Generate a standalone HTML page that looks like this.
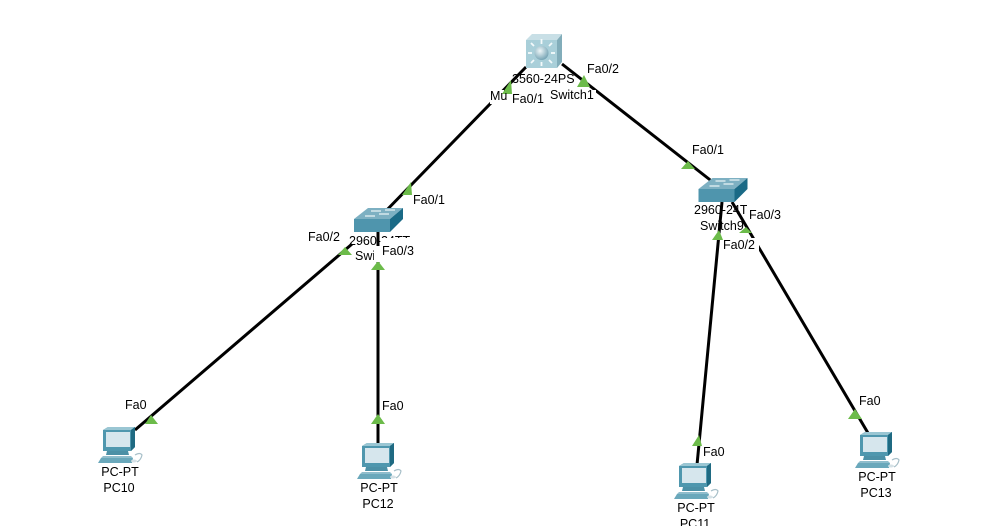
<!DOCTYPE html>
<html><head><meta charset="utf-8"><style>
html,body{margin:0;padding:0;background:#fff;width:981px;height:526px;overflow:hidden}
svg{display:block}
text{font-family:"Liberation Sans",Arial,sans-serif;font-size:12.5px;fill:#000}
</style></head><body>
<svg width="981" height="526" viewBox="0 0 981 526" xmlns="http://www.w3.org/2000/svg">
<defs>
<g id="pc">
<polygon points="103,430 108,427 135,427 135,447 131,451 103,451" fill="#3f8298"/>
<polygon points="108,427 135,427 131,430 103,430" fill="#9ac6d3"/>
<rect x="103" y="430" width="28" height="21" fill="#4f97ae"/>
<rect x="106" y="432" width="24" height="15" fill="#d6e6ed"/>
<polygon points="131,430 135,427 135,447 131,451" fill="#1f6a82"/>
<polygon points="107,451 128,451 129,455 106,455" fill="#4c90a6"/>
<polygon points="103,456 131,456 133,458 101,458" fill="#8fbdcc"/>
<polygon points="101,458 133,458 132,463 98,463" fill="#6aa8bb"/>
<path d="M135,455 q5,-3 7,0 q-1,5 -5,7" fill="none" stroke="#a8c0c9" stroke-width="1.2"/>
<ellipse cx="134" cy="461" rx="3" ry="1.5" fill="#d5e1e6"/>
</g>
<g id="sw">
<polygon points="0,11 14,0 49,0 36,11" fill="#7db0c2"/>
<rect x="0" y="11" width="36" height="13" fill="#4f95ad"/>
<polygon points="36,11 49,0 49,11 36,24" fill="#1a6a86"/>
<g stroke="#eef6f8" stroke-width="1.2">
<line x1="17" y1="3" x2="27" y2="3"/><line x1="31" y1="2" x2="41" y2="2"/>
<line x1="11" y1="8" x2="21" y2="8"/><line x1="25" y1="6" x2="35" y2="6"/>
</g>
</g>
</defs>

<g stroke="#000" stroke-width="3" fill="none">
<line x1="526" y1="67" x2="380" y2="217"/>
<line x1="562" y1="64" x2="723" y2="190"/>
<line x1="352" y1="244" x2="135" y2="430"/>
<line x1="378" y1="232" x2="378" y2="445"/>
<line x1="722" y1="202" x2="697" y2="465"/>
<line x1="732" y1="202" x2="868" y2="433"/>
</g>

<!-- label backgrounds -->
<g fill="#fff">
<rect x="490" y="90" width="14" height="14"/>
<rect x="512" y="93" width="34" height="13"/>
<rect x="550" y="90" width="46" height="11"/>
<rect x="587" y="62" width="35" height="13"/>
<rect x="413" y="193" width="34" height="13"/>
<rect x="308" y="230" width="34" height="13"/>
<rect x="355" y="246" width="28" height="15"/>
<rect x="723" y="238" width="36" height="14"/>
</g>

<!-- connection triangles -->
<g fill="#6cbb4a">
<polygon points="145,424 151,415 158,424"/>
<polygon points="371,424 378,414 385,424"/>
<polygon points="338,255 345,247 352,255"/>
<polygon points="371,270 378,261 385,270"/>
<polygon points="402,195 411,182 412,195"/>
<polygon points="502,94 511,80 512,94"/>
<polygon points="577,87 584,75 590,87"/>
<polygon points="681,169 688,161 695,169"/>
<polygon points="712,240 719,230 723,240"/>
<polygon points="739,233 746,227 752,233"/>
<polygon points="692,446 699,435 702,446"/>
<polygon points="848,419 855,409 862,419"/>
</g>

<!-- Switch1 multilayer icon -->
<polygon points="526,40 532,34 562,34 557,40" fill="#c8dfe6"/>
<rect x="526" y="40" width="31" height="28" fill="#a9cfd9"/>
<polygon points="557,40 562,34 562,62 557,68" fill="#82adba"/>
<radialGradient id="b" cx="40%" cy="35%" r="70%"><stop offset="0" stop-color="#eef6f8"/><stop offset="1" stop-color="#6f9fb0"/></radialGradient>
<circle cx="541.5" cy="53" r="7" fill="url(#b)"/>
<g stroke="#f4fafb" stroke-width="1.8">
<line x1="541.5" y1="44" x2="541.5" y2="39"/><line x1="541.5" y1="62" x2="541.5" y2="66"/>
<line x1="532" y1="53" x2="528" y2="53"/><line x1="551" y1="53" x2="555" y2="53"/>
<line x1="534" y1="46" x2="531" y2="43"/><line x1="549" y1="46" x2="552" y2="43"/>
<line x1="534" y1="60" x2="531" y2="63"/><line x1="549" y1="60" x2="552" y2="63"/>
</g>

<use href="#sw" x="354" y="208"/>
<use href="#sw" x="698.5" y="178"/>

<use href="#pc"/>
<use href="#pc" x="259" y="16"/>
<use href="#pc" x="576" y="36"/>
<use href="#pc" x="757" y="5"/>

<!-- labels -->
<text x="512" y="83">3560-24PS</text>
<text x="550" y="99">Switch1</text>
<text x="490" y="100">Mu</text>
<text x="512" y="103">Fa0/1</text>
<text x="587" y="73">Fa0/2</text>
<text x="413" y="204">Fa0/1</text>
<text x="308" y="241">Fa0/2</text>
<text x="349" y="245">2960-24TT</text>
<text x="355" y="260">Switch2</text>
<rect x="374" y="247" width="8" height="15" fill="#fff"/>
<rect x="381" y="238" width="35" height="24" fill="#fff"/>
<line x1="378" y1="232" x2="378" y2="246" stroke="#000" stroke-width="3"/>
<text x="382" y="255">Fa0/3</text>
<text x="692" y="154">Fa0/1</text>
<text x="694" y="214">2960-24TT</text>
<text x="700" y="230">Switch9</text>
<rect x="747" y="205" width="36" height="16" fill="#fff"/>
<text x="749" y="219">Fa0/3</text>
<text x="723" y="249">Fa0/2</text>
<text x="125" y="409">Fa0</text>
<text x="382" y="410">Fa0</text>
<text x="703" y="456">Fa0</text>
<text x="859" y="405">Fa0</text>
<g text-anchor="middle">
<text x="120" y="476">PC-PT</text><text x="119" y="492">PC10</text>
<text x="379" y="492">PC-PT</text><text x="378" y="508">PC12</text>
<text x="696" y="512">PC-PT</text><text x="695" y="528">PC11</text>
<text x="877" y="481">PC-PT</text><text x="876" y="497">PC13</text>
</g>
</svg>
</body></html>
